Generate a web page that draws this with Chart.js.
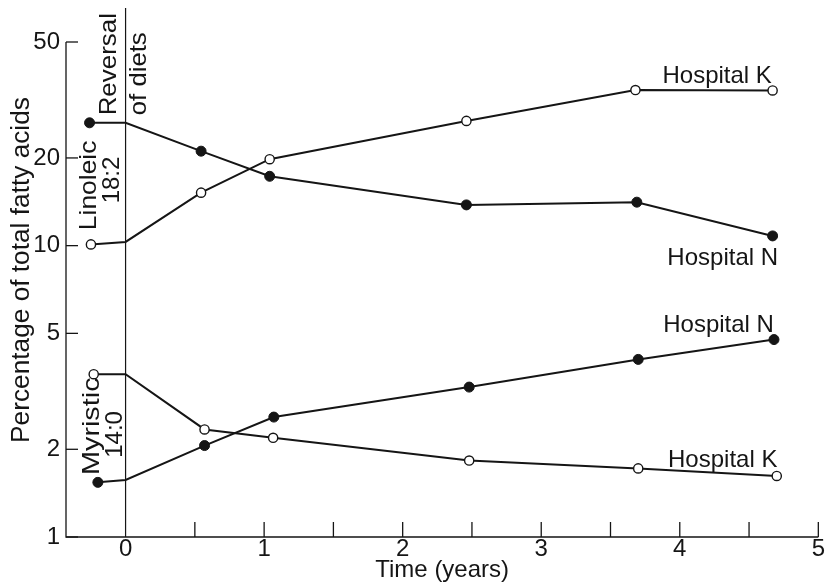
<!DOCTYPE html>
<html>
<head>
<meta charset="utf-8">
<script src="https://cdn.jsdelivr.net/npm/chart.js@4/dist/chart.umd.min.js"></script>
<style>
  html, body { margin: 0; padding: 0; background: #fff; }
  #wrap { width: 825px; height: 585px; position: relative; }
</style>
</head>
<body>
<div id="wrap"><canvas id="c" width="825" height="585"></canvas></div>
<script>
// ---- data (time in years, % of total fatty acids) ----
const linoleicNx = [-0.26, 0, 0.545, 1.04, 2.46, 3.69, 4.67];
const linoleicN  = [26.4, 26.4, 21.1, 17.3, 13.8, 14.1, 10.8];
const linoleicKx = [-0.25, 0, 0.545, 1.04, 2.46, 3.68, 4.67];
const linoleicK  = [10.1, 10.3, 15.2, 19.8, 26.8, 34.2, 34.1];
const myristicKx = [-0.23, 0, 0.57, 1.065, 2.48, 3.70, 4.70];
const myristicK  = [3.62, 3.62, 2.34, 2.19, 1.83, 1.72, 1.62];
const myristicNx = [-0.20, 0, 0.57, 1.07, 2.48, 3.70, 4.68];
const myristicN  = [1.54, 1.57, 2.06, 2.58, 3.27, 4.07, 4.76];

const yTicks = [1, 2, 5, 10, 20, 50];
const xTicks = [0, 1, 2, 3, 4, 5];
const xMinorTicks = [0.5, 1, 1.5, 2, 2.5, 3, 3.5, 4, 4.5, 5];
const reversalAt = 0;

// text annotations: [text, x value, y value]
const hospitalLabels = [
  ['Hospital K', 4.27, 36.1],
  ['Hospital N', 4.31, 8.57],
  ['Hospital N', 4.28, 5.04],
  ['Hospital K', 4.31, 1.735]
];
// rotated labels: [text, x value (baseline), y value (centre)]
const rotatedLabels = [
  ['Reversal', -0.072, 41.95],
  ['of diets', 0.151, 38.9],
  ['Linoleic', -0.216, 16.1],
  ['18:2', -0.05, 16.8],
  ['Myristic', -0.194, 2.40],
  ['14:0', -0.029, 2.25]
];
const rotatedStretch = [1.08, 1.07, 1.1, 1.0, 1.2, 1.0];

const FONT = "'Liberation Sans', Arial, Helvetica, sans-serif";
const INK = '#151515';

function pts(xs, ys) { return xs.map((x, i) => ({ x: x, y: ys[i] })); }

function series(label, xs, ys, filled) {
  return {
    label: label,
    data: pts(xs, ys),
    showLine: true,
    borderColor: INK,
    borderWidth: 2,
    pointBackgroundColor: filled ? INK : '#fff',
    pointBorderColor: INK,
    pointBorderWidth: filled ? 1 : 1.4,
    pointRadius: (ctx) => (ctx.raw && ctx.raw.x === reversalAt) ? 0 : (filled ? 5 : 4.6),
    pointHoverRadius: 0,
    clip: false,
    tension: 0
  };
}

const decor = {
  id: 'decor',
  beforeDatasetsDraw(chart) {
    const { ctx, chartArea: a, scales: { x, y } } = chart;
    ctx.save();
    ctx.strokeStyle = INK;
    ctx.lineWidth = 1.3;
    ctx.lineCap = 'butt';
    // axes
    ctx.beginPath();
    ctx.moveTo(a.left, a.top);
    ctx.lineTo(a.left, a.bottom);
    ctx.lineTo(a.right, a.bottom);
    ctx.stroke();
    // y ticks (inward)
    yTicks.forEach(v => {
      const py = y.getPixelForValue(v);
      ctx.beginPath();
      ctx.moveTo(a.left, py);
      ctx.lineTo(a.left + 12, py);
      ctx.stroke();
    });
    // x ticks (inward)
    xMinorTicks.forEach(v => {
      const px = x.getPixelForValue(v);
      ctx.beginPath();
      ctx.moveTo(px, a.bottom);
      ctx.lineTo(px, a.bottom - 15);
      ctx.stroke();
    });
    // reversal line
    const rx = x.getPixelForValue(reversalAt);
    ctx.lineWidth = 1.2;
    ctx.beginPath();
    ctx.moveTo(rx, a.bottom);
    ctx.lineTo(rx, a.top - 34);
    ctx.stroke();
    ctx.restore();
  },
  afterDatasetsDraw(chart) {
    const { ctx, chartArea: a, scales: { x, y } } = chart;
    ctx.save();
    ctx.fillStyle = INK;
    ctx.font = '24px ' + FONT;
    ctx.textAlign = 'center';
    ctx.textBaseline = 'alphabetic';
    hospitalLabels.forEach(([t, xv, yv]) => {
      ctx.fillText(t, x.getPixelForValue(xv), y.getPixelForValue(yv));
    });
    rotatedLabels.forEach(([t, xv, yv], i) => {
      ctx.save();
      ctx.translate(x.getPixelForValue(xv), y.getPixelForValue(yv));
      ctx.rotate(-Math.PI / 2);
      ctx.scale(rotatedStretch[i], 1);
      ctx.font = '24px ' + FONT;
      ctx.textAlign = 'center';
      ctx.textBaseline = 'alphabetic';
      ctx.fillText(t, 0, 0);
      ctx.restore();
    });
    // y axis title
    ctx.save();
    ctx.translate(a.left - 37, a.top + 228);
    ctx.rotate(-Math.PI / 2);
    ctx.scale(1.05, 1);
    ctx.font = '25px ' + FONT;
    ctx.textAlign = 'center';
    ctx.textBaseline = 'alphabetic';
    ctx.fillText('Percentage of total fatty acids', 0, 0);
    ctx.restore();
    ctx.restore();
  }
};

new Chart(document.getElementById('c'), {
  type: 'scatter',
  data: {
    datasets: [
      series('Linoleic 18:2 – Hospital N', linoleicNx, linoleicN, true),
      series('Linoleic 18:2 – Hospital K', linoleicKx, linoleicK, false),
      series('Myristic 14:0 – Hospital K', myristicKx, myristicK, false),
      series('Myristic 14:0 – Hospital N', myristicNx, myristicN, true)
    ]
  },
  options: {
    responsive: false,
    animation: false,
    events: [],
    layout: { padding: { top: 42, right: 4, left: 0, bottom: 0 } },
    plugins: { legend: { display: false }, tooltip: { enabled: false }, title: { display: false } },
    scales: {
      x: {
        type: 'linear',
        min: -0.43,
        max: 5,
        afterBuildTicks: (s) => { s.ticks = xTicks.map(v => ({ value: v })); },
        afterFit: (s) => { s.height = 48; },
        grid: { display: false, drawTicks: false },
        border: { display: false },
        ticks: {
          color: INK,
          font: { family: FONT, size: 24, lineHeight: 1 },
          padding: 0,
          maxRotation: 0,
          autoSkip: false,
          callback: (v) => String(v)
        },
        title: {
          display: true,
          text: 'Time (years)',
          color: INK,
          font: { family: FONT, size: 24 },
          padding: { top: 0, bottom: 0 }
        }
      },
      y: {
        type: 'logarithmic',
        min: 1,
        max: 50,
        afterBuildTicks: (s) => { s.ticks = yTicks.map(v => ({ value: v })); },
        afterFit: (s) => { s.width = 66; },
        grid: { display: false, drawTicks: false },
        border: { display: false },
        ticks: {
          color: INK,
          font: { family: FONT, size: 24, lineHeight: 1 },
          padding: 6,
          autoSkip: false,
          callback: (v) => String(v)
        }
      }
    }
  },
  plugins: [decor]
});
</script>
</body>
</html>
